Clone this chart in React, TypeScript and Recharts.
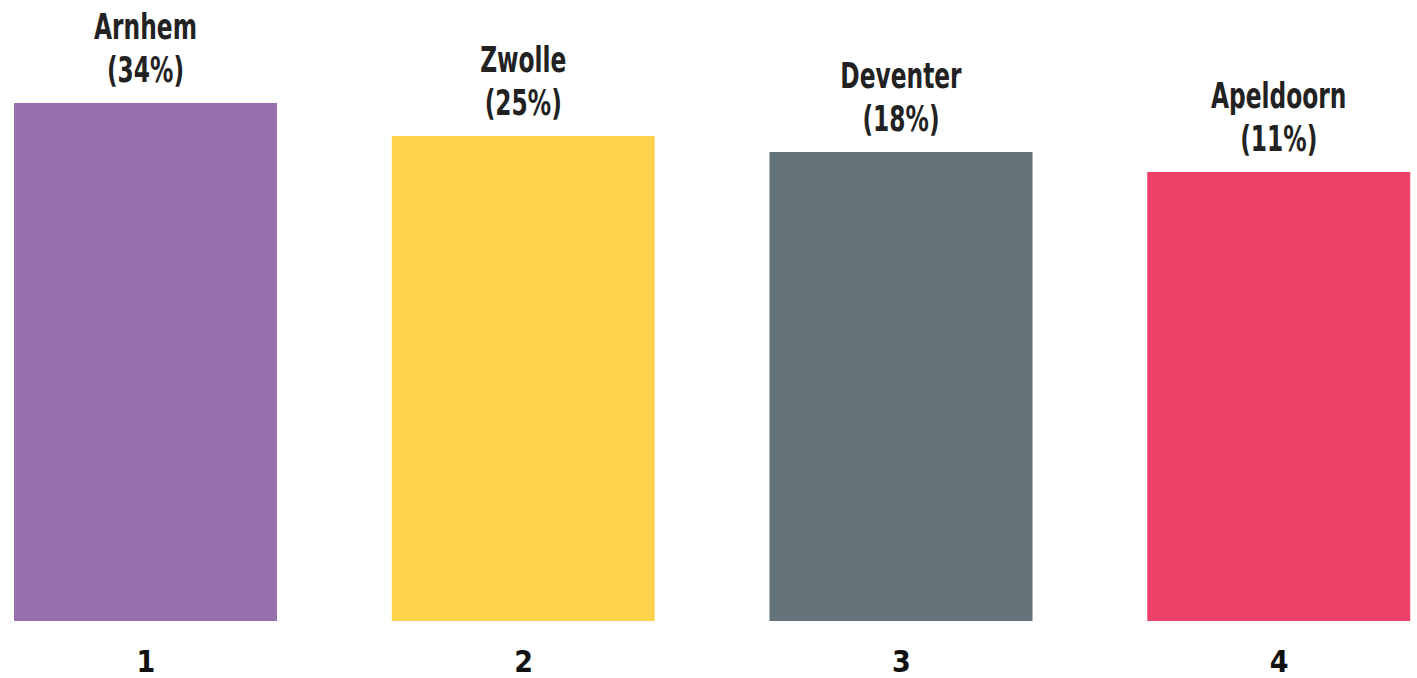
import React from 'react';
import { BarChart, Bar, XAxis, YAxis, Cell, LabelList } from 'recharts';

// rank, city, share, bar height (as drawn), colour
const ranks = ['1', '2', '3', '4'];
const cities = ['Arnhem', 'Zwolle', 'Deventer', 'Apeldoorn'];
const shares = ['34%', '25%', '18%', '11%'];
const heights = [518, 485, 469, 449];
const colors = ['#9770AE', '#FDD34D', '#637379', '#EE416A'];

const data = ranks.map((r, i) => ({ rank: r, city: cities[i], share: shares[i], value: heights[i] }));

const font = "'DejaVu Sans Condensed', 'DejaVu Sans', sans-serif";

const TopLabel = (props: any) => {
  const { x, y, width, index } = props;
  const cx = x + width / 2;
  // squeeze horizontally for the narrow headline look
  return (
    <g transform={`translate(${cx}, ${y}) scale(0.72, 1)`}>
      <text x={0} y={-64} textAnchor="middle" fontFamily={font} fontWeight={700} fontSize={36} fill="#222">
        {cities[index]}
      </text>
      <text x={0} y={-21} textAnchor="middle" fontFamily={font} fontWeight={700} fontSize={36} fill="#222">
        ({shares[index]})
      </text>
    </g>
  );
};

const RankTick = (props: any) => {
  const { x, y, payload } = props;
  return (
    <text x={x} y={y + 51} textAnchor="middle" fontFamily={font} fontWeight={700} fontSize={30} fill="#111">
      {payload.value}
    </text>
  );
};

export default function App() {
  return (
    <div style={{ position: 'fixed', top: 0, left: 0, width: 1417, height: 678, overflow: 'hidden', background: '#fff' }}>
      <div style={{ position: 'absolute', top: 0, left: -43 }}>
        <BarChart width={1511} height={678} data={data} margin={{ top: 103, right: 0, left: 0, bottom: 0 }} barSize={263}>
          <XAxis dataKey="rank" axisLine={false} tickLine={false} tickSize={0} tickMargin={0} height={57} tick={<RankTick />} interval={0} />
          <YAxis hide domain={[0, 518]} />
          <Bar dataKey="value" isAnimationActive={false}>
            {data.map((d, i) => (
              <Cell key={d.rank} fill={colors[i]} />
            ))}
            <LabelList dataKey="city" content={<TopLabel />} />
          </Bar>
        </BarChart>
      </div>
    </div>
  );
}
